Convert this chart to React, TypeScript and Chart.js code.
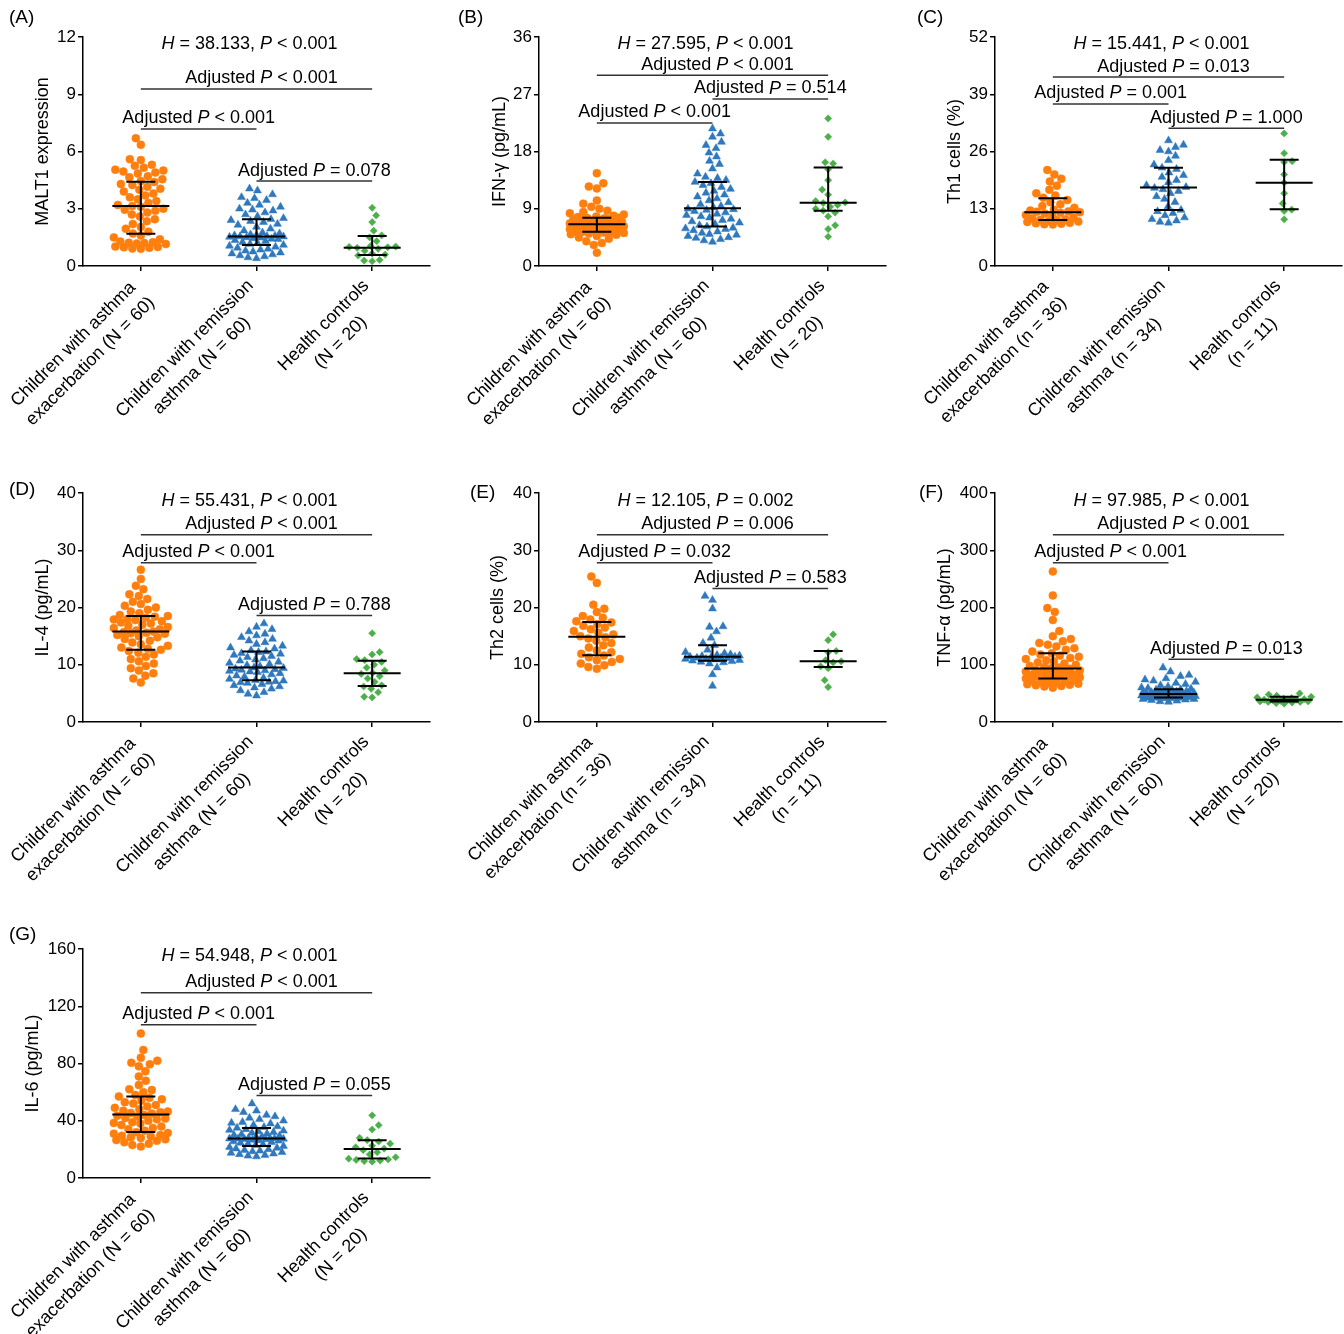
import React, { useEffect, useRef } from "react";
import { Chart, registerables } from "chart.js";
Chart.register(...registerables);

const FONT = "'Liberation Sans', Arial, Helvetica, sans-serif";

// ---------- categories / tick labels ----------
const labelsBigN = [
  ["Children with asthma", "exacerbation (N = 60)"],
  ["Children with remission", "asthma (N = 60)"],
  ["Health controls", "(N = 20)"],
];
const labelsSmallN = [
  ["Children with asthma", "exacerbation (n = 36)"],
  ["Children with remission", "asthma (n = 34)"],
  ["Health controls", "(n = 11)"],
];

// ---------- (A) MALT1 ----------
const malt1Exacerbation = [
  0.9, 0.92, 0.95, 0.98, 1.0, 1.02, 1.15, 1.18, 1.2, 1.22, 1.25, 1.28, 1.4, 1.5, 1.6,
  1.7, 1.8, 1.95, 2.05, 2.2, 2.35, 2.45, 2.6, 2.7, 2.8, 2.9, 2.95, 3.0, 3.1, 3.15,
  3.2, 3.3, 3.4, 3.5, 3.6, 3.7, 3.8, 3.9, 4.0, 4.05, 4.15, 4.25, 4.3, 4.4, 4.45,
  4.55, 4.65, 4.7, 4.85, 4.9, 4.95, 5.0, 5.05, 5.15, 5.25, 5.3, 5.55, 5.6, 6.35, 6.7,
];
const malt1Remission = [
  0.4, 0.45, 0.5, 0.55, 0.6, 0.65, 0.7, 0.75, 0.8, 0.85, 0.9, 0.95, 1.0, 1.05, 1.1,
  1.15, 1.2, 1.25, 1.3, 1.35, 1.4, 1.42, 1.45, 1.48, 1.5, 1.52, 1.54, 1.55, 1.56, 1.58,
  1.6, 1.62, 1.65, 1.7, 1.75, 1.85, 1.95, 2.05, 2.15, 2.2, 2.3, 2.35, 2.4, 2.45, 2.5,
  2.6, 2.7, 2.8, 2.9, 2.95, 3.0, 3.1, 3.2, 3.3, 3.45, 3.55, 3.6, 3.75, 3.95, 4.05,
];
const malt1Controls = [
  0.25, 0.28, 0.32, 0.55, 0.6, 0.65, 0.8, 0.9, 0.95, 0.98, 1.0, 1.02, 1.05, 1.3, 1.5,
  1.6, 1.85, 2.3, 2.65, 3.05,
];
const malt1Median = [3.15, 1.55, 0.96];
const malt1Q1 = [1.69, 1.1, 0.58];
const malt1Q3 = [4.42, 2.45, 1.57];

// ---------- (B) IFN-γ ----------
const ifnExacerbation = [
  2.1, 3.3, 3.6, 3.9, 4.3, 4.5, 4.7, 4.9, 5.0, 5.1, 5.2, 5.25, 5.3, 5.35, 5.4,
  5.5, 5.6, 5.7, 5.8, 5.9, 6.0, 6.1, 6.2, 6.25, 6.3, 6.35, 6.4, 6.45, 6.5, 6.55,
  6.6, 6.7, 6.75, 6.8, 6.9, 7.0, 7.05, 7.1, 7.2, 7.3, 7.35, 7.4, 7.5, 7.55, 7.6,
  7.7, 7.8, 7.9, 8.1, 8.3, 8.5, 8.7, 9.0, 9.3, 9.8, 10.3, 12.2, 12.5, 13.0, 14.6,
];
const ifnRemission = [
  3.8, 4.0, 4.2, 4.4, 4.5, 4.7, 4.9, 5.0, 5.2, 5.4, 5.6, 5.8, 5.9, 6.0, 6.2,
  6.4, 6.6, 6.8, 7.0, 7.2, 7.4, 7.6, 7.8, 8.0, 8.2, 8.4, 8.6, 8.8, 8.9, 9.0,
  9.2, 9.4, 9.7, 10.0, 10.3, 10.6, 10.9, 11.2, 11.5, 11.8, 12.1, 12.4, 12.7, 13.0, 13.2,
  13.5, 13.8, 14.0, 14.5, 15.3, 16.0, 16.5, 17.2, 17.8, 18.5, 19.0, 19.5, 20.3, 20.8, 21.6,
];
const ifnControls = [
  4.6, 5.8, 6.4, 7.8, 8.4, 8.7, 9.0, 9.3, 9.6, 9.9, 10.0, 10.2, 11.2, 12.0, 13.5,
  15.2, 16.1, 16.3, 20.3, 23.2,
];
const ifnMedian = [6.55, 9.07, 9.95];
const ifnQ1 = [5.4, 6.2, 8.7];
const ifnQ3 = [7.6, 13.2, 15.5];

// ---------- (C) Th1 cells ----------
const th1Exacerbation = [
  9.4, 9.5, 9.6, 9.7, 9.8, 10.0, 10.1, 10.2, 10.4,
  10.5, 10.6, 10.8, 11.0, 11.3, 11.6, 11.9, 12.1, 12.2,
  12.3, 12.4, 12.6, 12.8, 13.2, 13.6, 14.0, 14.5, 15.0,
  15.5, 16.0, 16.5, 17.3, 18.2, 19.2, 19.8, 20.8, 21.8,
];
const th1Remission = [
  9.8, 10.0, 10.3, 10.6, 11.0, 11.5, 12.0, 12.4, 12.7,
  13.5, 14.5, 15.2, 15.8, 16.5, 17.0, 17.4, 17.7,
  17.9, 18.3, 19.0, 19.5, 20.2, 20.6, 21.2, 22.0, 22.3,
  23.0, 24.0, 25.0, 26.0, 26.3, 27.0, 27.5, 28.5,
];
const th1Controls = [10.6, 12.5, 12.8, 14.2, 16.5, 18.9, 20.8, 23.6, 23.8, 25.6, 30.1];
const th1Median = [12.2, 17.8, 18.9];
const th1Q1 = [10.45, 12.7, 12.9];
const th1Q3 = [15.4, 22.3, 24.1];

// ---------- (D) IL-4 ----------
const il4Exacerbation = [
  6.9, 7.6, 8.1, 8.5, 9.0, 9.4, 9.8, 10.2, 10.6, 11.0, 11.4, 11.8, 12.1, 12.4, 12.6,
  12.8, 13.0, 13.3, 13.6, 13.9, 14.2, 14.5, 14.8, 15.0, 15.2, 15.4, 15.5, 15.6, 15.7, 15.8,
  16.0, 16.2, 16.4, 16.6, 16.8, 17.0, 17.2, 17.4, 17.6, 17.8, 17.9, 18.0, 18.2, 18.4, 18.5,
  18.7, 19.0, 19.3, 19.6, 20.0, 20.3, 20.6, 21.0, 21.5, 22.0, 22.3, 23.2, 23.8, 25.0, 26.6,
];
const il4Remission = [
  4.6, 4.9, 5.2, 5.5, 5.8, 6.0, 6.2, 6.4, 6.6, 6.8, 6.9, 7.0, 7.1, 7.2, 7.3,
  7.5, 7.7, 7.9, 8.1, 8.3, 8.5, 8.7, 8.8, 8.9, 9.0, 9.1, 9.2, 9.3, 9.4, 9.5,
  9.7, 9.9, 10.1, 10.3, 10.5, 10.7, 10.9, 11.1, 11.3, 11.5, 11.7, 11.9, 12.0, 12.2, 12.3,
  12.5, 12.8, 13.0, 13.3, 13.6, 13.9, 14.2, 14.5, 14.8, 15.1, 15.4, 15.8, 16.2, 16.6, 17.2,
];
const il4Controls = [
  4.3, 4.4, 5.2, 5.8, 6.2, 6.4, 7.0, 7.6, 8.0, 8.4, 8.6, 9.0, 9.5, 10.0, 10.5,
  10.8, 11.0, 11.8, 12.2, 15.5,
];
const il4Median = [15.8, 9.5, 8.5];
const il4Q1 = [12.6, 7.3, 6.3];
const il4Q3 = [18.5, 12.3, 10.7];

// ---------- (E) Th2 cells ----------
const th2Exacerbation = [
  9.3, 9.6, 9.9, 10.2, 10.5, 10.8, 11.0, 11.3, 11.6,
  11.9, 12.2, 12.5, 13.0, 13.4, 13.8, 14.2, 14.6, 14.8,
  15.0, 15.3, 15.6, 15.9, 16.2, 16.5, 16.8, 17.1, 17.4,
  17.6, 17.9, 18.2, 18.5, 19.2, 19.8, 20.5, 24.3, 25.4,
];
const th2Remission = [
  6.3, 8.3, 9.5, 10.2, 10.4, 10.5, 10.6, 10.7, 10.8,
  10.9, 11.0, 11.0, 11.1, 11.2, 11.2, 11.3, 11.4,
  11.4, 11.5, 11.6, 11.7, 11.8, 12.0, 12.2, 12.6, 13.4,
  13.8, 14.7, 15.8, 16.6, 16.7, 19.8, 21.3, 22.0,
];
const th2Controls = [6.1, 7.3, 9.4, 9.7, 10.4, 10.6, 10.8, 12.2, 12.4, 14.3, 15.3];
const th2Median = [14.9, 11.4, 10.6];
const th2Q1 = [11.65, 10.7, 9.6];
const th2Q3 = [17.45, 13.4, 12.4];

// ---------- (F) TNF-α ----------
const tnfExacerbation = [
  60, 62, 63, 64, 65, 66, 67, 68, 69, 70, 71, 72, 73, 74, 76,
  77, 78, 79, 80, 81, 82, 83, 84, 85, 86, 87, 88, 90, 91, 93,
  94, 95, 96, 98, 100, 102, 104, 106, 108, 110, 112, 114, 116, 118, 120,
  123, 126, 129, 132, 135, 138, 141, 145, 150, 159, 178, 192, 199, 221, 263,
];
const tnfRemission = [
  35, 36, 37, 38, 39, 40, 40, 41, 41, 42, 42, 42, 43, 43, 43,
  44, 44, 44, 45, 45, 45, 46, 46, 46, 47, 47, 47, 48, 48, 48,
  49, 49, 50, 50, 51, 51, 52, 52, 53, 53, 54, 55, 56, 56, 57,
  58, 59, 60, 62, 64, 66, 68, 70, 72, 74, 76, 80, 82, 88, 95,
];
const tnfControls = [
  32, 33, 34, 35, 35, 36, 36, 37, 38, 38, 39, 39, 40, 41, 42, 43, 44, 46, 48, 50,
];
const tnfMedian = [93.3, 48.7, 38.8];
const tnfQ1 = [76, 43, 36];
const tnfQ3 = [120, 57.4, 44];

// ---------- (G) IL-6 ----------
const il6Exacerbation = [
  22, 23, 24, 25, 26, 26.5, 27, 28, 28.5, 29, 29.5, 30, 31, 31.5, 32,
  33, 34, 35, 36, 37, 38, 38.5, 39, 40, 41, 41.5, 42, 43, 43.5, 44,
  45, 45.5, 46, 46.5, 47, 48, 49, 50, 51, 52, 53, 54, 55, 56, 57,
  58, 60, 61.5, 62, 65, 68, 71, 74.5, 78, 79.5, 80.5, 82, 84, 89.5, 101,
];
const il6Remission = [
  15, 15.5, 16, 16.5, 17, 17.5, 18, 18.5, 19, 19.5, 20, 20.5, 21, 21.5, 22.3,
  23, 23.5, 24, 24.5, 25, 25.5, 26, 26.3, 26.6, 26.9, 27.1, 27.3, 27.4, 27.5, 27.6,
  27.8, 28, 28.5, 29, 29.5, 30, 30.5, 31, 31.5, 32, 32.5, 33, 33.5, 34, 35,
  35.5, 36, 37, 38, 38.5, 39, 40, 41, 42, 43, 44, 46, 47, 48, 52,
];
const il6Controls = [
  11.4, 11.8, 12.2, 12.6, 13.0, 13.5, 14.5, 16.5, 18, 19.5, 20.5, 21.5, 22.5, 24.0, 25.5,
  26.5, 28, 33.9, 36.9, 43.8,
];
const il6Median = [44.3, 27.6, 20.2];
const il6Q1 = [32.2, 22.3, 13.7];
const il6Q3 = [57, 35, 26.4];

// ---------- panel definitions ----------
type Bracket = { from: number; to: number; y: number; p: string; dx?: number };
type Panel = {
  letter: string; letterX: number; letterY: number;
  yTitle: string; titleX: number; yMax: number; yStep: number;
  groups: number[][]; median: number[]; q1: number[]; q3: number[];
  labels: string[][]; hStat: string; hP: string; hY: number; brackets: Bracket[];
};

const panels: Panel[] = [
  { letter: "(A)", letterX: 9, letterY: 18, yTitle: "MALT1 expression", titleX: 43, yMax: 12, yStep: 3,
    groups: [malt1Exacerbation, malt1Remission, malt1Controls], median: malt1Median, q1: malt1Q1, q3: malt1Q3,
    labels: labelsBigN, hStat: "38.133", hP: "< 0.001", hY: 11.74,
    brackets: [{ from: 0, to: 2, y: 9.28, p: "< 0.001", dx: 5 }, { from: 0, to: 1, y: 7.18, p: "< 0.001" }, { from: 1, to: 2, y: 4.45, p: "= 0.078" }] },
  { letter: "(B)", letterX: 2, letterY: 18, yTitle: "IFN-γ (pg/mL)", titleX: 44, yMax: 36, yStep: 9,
    groups: [ifnExacerbation, ifnRemission, ifnControls], median: ifnMedian, q1: ifnQ1, q3: ifnQ3,
    labels: labelsBigN, hStat: "27.595", hP: "< 0.001", hY: 35.2,
    brackets: [{ from: 0, to: 2, y: 30.0, p: "< 0.001", dx: 5 }, { from: 1, to: 2, y: 26.25, p: "= 0.514" }, { from: 0, to: 1, y: 22.5, p: "< 0.001" }] },
  { letter: "(C)", letterX: 5, letterY: 18, yTitle: "Th1 cells (%)", titleX: 43, yMax: 52, yStep: 13,
    groups: [th1Exacerbation, th1Remission, th1Controls], median: th1Median, q1: th1Q1, q3: th1Q3,
    labels: labelsSmallN, hStat: "15.441", hP: "< 0.001", hY: 50.86,
    brackets: [{ from: 0, to: 2, y: 42.9, p: "= 0.013", dx: 5 }, { from: 0, to: 1, y: 36.8, p: "= 0.001" }, { from: 1, to: 2, y: 31.3, p: "= 1.000" }] },
  { letter: "(D)", letterX: 9, letterY: 34, yTitle: "IL-4 (pg/mL)", titleX: 43, yMax: 40, yStep: 10,
    groups: [il4Exacerbation, il4Remission, il4Controls], median: il4Median, q1: il4Q1, q3: il4Q3,
    labels: labelsBigN, hStat: "55.431", hP: "< 0.001", hY: 38.96,
    brackets: [{ from: 0, to: 2, y: 32.7, p: "< 0.001", dx: 5 }, { from: 0, to: 1, y: 27.8, p: "< 0.001" }, { from: 1, to: 2, y: 18.6, p: "= 0.788" }] },
  { letter: "(E)", letterX: 14, letterY: 37, yTitle: "Th2 cells (%)", titleX: 42, yMax: 40, yStep: 10,
    groups: [th2Exacerbation, th2Remission, th2Controls], median: th2Median, q1: th2Q1, q3: th2Q3,
    labels: labelsSmallN, hStat: "12.105", hP: "= 0.002", hY: 38.96,
    brackets: [{ from: 0, to: 2, y: 32.7, p: "= 0.006", dx: 5 }, { from: 0, to: 1, y: 27.8, p: "= 0.032" }, { from: 1, to: 2, y: 23.3, p: "= 0.583" }] },
  { letter: "(F)", letterX: 7, letterY: 37, yTitle: "TNF-α (pg/mL)", titleX: 33, yMax: 400, yStep: 100,
    groups: [tnfExacerbation, tnfRemission, tnfControls], median: tnfMedian, q1: tnfQ1, q3: tnfQ3,
    labels: labelsBigN, hStat: "97.985", hP: "< 0.001", hY: 389.6,
    brackets: [{ from: 0, to: 2, y: 327, p: "< 0.001", dx: 5 }, { from: 0, to: 1, y: 278, p: "< 0.001" }, { from: 1, to: 2, y: 109.6, p: "= 0.013" }] },
  { letter: "(G)", letterX: 9, letterY: 23, yTitle: "IL-6 (pg/mL)", titleX: 33, yMax: 160, yStep: 40,
    groups: [il6Exacerbation, il6Remission, il6Controls], median: il6Median, q1: il6Q1, q3: il6Q3,
    labels: labelsBigN, hStat: "54.948", hP: "< 0.001", hY: 156.5,
    brackets: [{ from: 0, to: 2, y: 129.4, p: "< 0.001", dx: 5 }, { from: 0, to: 1, y: 107.1, p: "< 0.001" }, { from: 1, to: 2, y: 57.7, p: "= 0.055" }] },
];

// ---------- layout / style ----------
const CELL = 456;
const AREA = { left: 83, top: 37, right: 430, bottom: 266 };
const PLOT_W = AREA.right - AREA.left;
const PLOT_H = AREA.bottom - AREA.top;
const PX_PER_X = PLOT_W / 3;
const COLORS = ["#FF7F0E", "#2F78BD", "#4DAF4A"];
const STYLES: any[] = ["circle", "triangle", "rectRot"];
const RADII = [4, 4.6, 3.6];
const SWARM_D = [8.2, 8.2, 7.6];
const MAX_HALF = 27;

// beeswarm layout: horizontal offsets (px) so that markers do not overlap (within a max width)
function swarmOffsets(values: number[], pxPerY: number, d: number): number[] {
  const order = values.map((_, i) => i).sort((a, b) => values[a] - values[b]);
  const placed: { x: number; y: number }[] = [];
  const out = new Array(values.length).fill(0);
  const cands: number[] = [];
  for (let c = 0; c <= MAX_HALF * 2; c++) {
    const v = c / 2;
    cands.push(v);
    if (v > 0) cands.push(-v);
  }
  let flip = 1;
  for (const i of order) {
    const y = values[i] * pxPerY;
    const near = placed.filter((p) => Math.abs(p.y - y) < d * 1.5);
    let best = 0, bestScore = -1;
    for (const c0 of cands) {
      const c = c0 * flip;
      let m = Infinity;
      for (const p of near) {
        const dd = Math.hypot(p.x - c, p.y - y);
        if (dd < m) m = dd;
      }
      if (m >= d) { best = c; bestScore = Infinity; break; }
      if (m > bestScore + 0.01) { bestScore = m; best = c; }
    }
    flip = -flip;
    placed.push({ x: best, y });
    out[i] = best;
  }
  return out;
}

function drawRich(ctx: CanvasRenderingContext2D, segs: [string, boolean][], cx: number, cy: number, size: number) {
  const fonts = segs.map(([, it]) => `${it ? "italic " : ""}${size}px ${FONT}`);
  let total = 0;
  const widths = segs.map(([t], i) => { ctx.font = fonts[i]; const w = ctx.measureText(t).width; total += w; return w; });
  let xx = cx - total / 2;
  ctx.textAlign = "left";
  ctx.textBaseline = "middle";
  segs.forEach(([t], i) => { ctx.font = fonts[i]; ctx.fillText(t, xx, cy); xx += widths[i]; });
}

function makePlugin(p: Panel) {
  return {
    id: "panelDecor",
    afterDatasetsDraw(chart: any) {
      const { ctx, scales: { x, y } } = chart;
      ctx.save();
      ctx.strokeStyle = "#000";
      ctx.lineWidth = 2;
      for (let i = 0; i < 3; i++) {
        const cx = x.getPixelForValue(i);
        const ym = y.getPixelForValue(p.median[i]);
        const y1 = y.getPixelForValue(p.q1[i]);
        const y3 = y.getPixelForValue(p.q3[i]);
        ctx.beginPath();
        ctx.moveTo(cx - 28.5, ym); ctx.lineTo(cx + 28.5, ym);
        ctx.moveTo(cx, y1); ctx.lineTo(cx, y3);
        ctx.moveTo(cx - 14.5, y1); ctx.lineTo(cx + 14.5, y1);
        ctx.moveTo(cx - 14.5, y3); ctx.lineTo(cx + 14.5, y3);
        ctx.stroke();
      }
      ctx.restore();
    },
    afterDraw(chart: any) {
      const { ctx, scales: { x, y }, chartArea } = chart;
      ctx.save();
      ctx.fillStyle = "#000";
      // panel letter
      ctx.font = `19px ${FONT}`;
      ctx.textAlign = "left";
      ctx.textBaseline = "middle";
      ctx.fillText(p.letter, p.letterX, p.letterY);
      // H statistic
      drawRich(ctx, [["H", true], [` = ${p.hStat}, `, false], ["P", true], [` ${p.hP}`, false]],
        x.getPixelForValue(1) - 7, y.getPixelForValue(p.hY) + 2, 18);
      // brackets
      for (const b of p.brackets) {
        const x1 = x.getPixelForValue(b.from);
        const x2 = x.getPixelForValue(b.to);
        const yy = y.getPixelForValue(b.y);
        ctx.strokeStyle = "#333";
        ctx.lineWidth = 1.5;
        ctx.beginPath();
        ctx.moveTo(x1, yy); ctx.lineTo(x2, yy);
        ctx.stroke();
        drawRich(ctx, [["Adjusted ", false], ["P", true], [` ${b.p}`, false]], (x1 + x2) / 2 + (b.dx || 0), yy - 10.5, 18);
      }
      // rotated category labels
      ctx.font = `18px ${FONT}`;
      for (let i = 0; i < 3; i++) {
        const lines = p.labels[i];
        const ax = x.getPixelForValue(i) - 6;
        const ay = chartArea.bottom + 17;
        ctx.save();
        ctx.translate(ax, ay);
        ctx.rotate(-Math.PI / 4);
        const W = Math.max(...lines.map((l) => ctx.measureText(l).width));
        ctx.textAlign = "center";
        ctx.textBaseline = "middle";
        lines.forEach((l, k) => ctx.fillText(l, -W / 2, k * 24));
        ctx.restore();
      }
      ctx.restore();
    },
  };
}

function PanelChart({ panel, left, top }: { panel: Panel; left: number; top: number }) {
  const ref = useRef<HTMLCanvasElement | null>(null);
  useEffect(() => {
    if (!ref.current) return;
    const pxPerY = PLOT_H / panel.yMax;
    const datasets = panel.groups.map((vals, g) => {
      const offs = swarmOffsets(vals, pxPerY, SWARM_D[g]);
      return {
        type: "scatter" as const,
        data: vals.map((v, i) => ({ x: g + offs[i] / PX_PER_X, y: v })),
        pointStyle: STYLES[g],
        pointRadius: RADII[g],
        pointBackgroundColor: COLORS[g],
        pointBorderColor: COLORS[g],
        pointBorderWidth: 0.5,
        showLine: false,
      };
    });
    const axisGrid = { display: true, drawOnChartArea: false, drawTicks: true, tickLength: 5, color: "#000", lineWidth: 1.5 };
    const chart = new Chart(ref.current, {
      type: "scatter",
      data: { datasets },
      options: {
        responsive: false,
        animation: false,
        events: [],
        layout: { padding: { left: 0, top: AREA.top, right: CELL - AREA.right, bottom: CELL - AREA.bottom - 10 } },
        plugins: { legend: { display: false }, tooltip: { enabled: false }, title: { display: false } },
        scales: {
          x: {
            type: "linear",
            min: -0.5,
            max: 2.5,
            afterBuildTicks: (s: any) => { s.ticks = [0, 1, 2].map((v) => ({ value: v })); },
            afterFit: (s: any) => { s.height = 10; },
            ticks: { display: false },
            grid: axisGrid,
            border: { display: true, color: "#000", width: 1.5 },
          },
          y: {
            type: "linear",
            min: 0,
            max: panel.yMax,
            afterFit: (s: any) => { s.width = AREA.left; },
            ticks: { stepSize: panel.yStep, color: "#000", padding: 2, font: { family: FONT, size: 17 } },
            grid: axisGrid,
            border: { display: true, color: "#000", width: 1.5 },
            title: {
              display: true,
              text: panel.yTitle,
              color: "#000",
              font: { family: FONT, size: 18 },
              padding: { top: panel.titleX - 10.8, bottom: 0 },
            },
          },
        },
      },
      plugins: [makePlugin(panel)],
    } as any);
    return () => chart.destroy();
  }, [panel]);
  return (
    <canvas ref={ref} width={CELL} height={CELL}
      style={{ position: "absolute", left, top, width: CELL, height: CELL }} />
  );
}

export default function App() {
  return (
    <div style={{ position: "absolute", left: 0, top: 0, width: 1344, height: 1334, overflow: "hidden", background: "#fff" }}>
      {panels.map((p, i) => (
        <PanelChart key={p.letter} panel={p} left={(i % 3) * CELL} top={Math.floor(i / 3) * CELL} />
      ))}
    </div>
  );
}
